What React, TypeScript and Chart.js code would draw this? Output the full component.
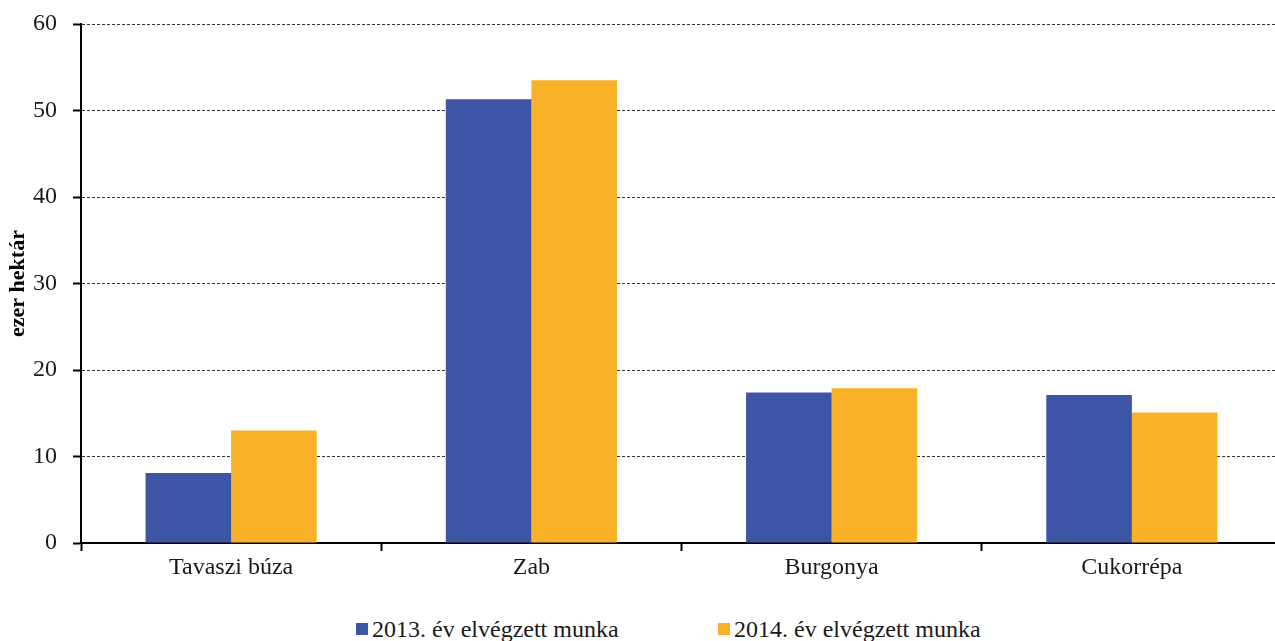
import React, { useEffect, useRef } from "react";
import { Chart, registerables } from "chart.js";

Chart.register(...registerables);

const categories = ["Tavaszi búza", "Zab", "Burgonya", "Cukorrépa"];
const seriesNames = ["2013. év elvégzett munka", "2014. év elvégzett munka"];
const values2013 = [8.1, 51.3, 17.4, 17.1];
const values2014 = [13.0, 53.5, 17.9, 15.1];
const yTicks = [0, 10, 20, 30, 40, 50, 60];
const yTitle = "ezer hektár";

const COLORS = ["#3C55A5", "#F9B128"];
const FONT = "'Liberation Serif', 'Times New Roman', serif";
const LEGEND_X = [356, 718];

export default function App() {
  const ref = useRef<HTMLCanvasElement>(null);

  useEffect(() => {
    const chart = new Chart(ref.current as HTMLCanvasElement, {
      type: "bar",
      data: {
        labels: categories,
        datasets: [
          { label: seriesNames[0], data: values2013, backgroundColor: COLORS[0] },
          { label: seriesNames[1], data: values2014, backgroundColor: COLORS[1] },
        ],
      },
      options: {
        animation: false,
        responsive: true,
        maintainAspectRatio: false,
        layout: { padding: { top: 24, right: 0, bottom: 0, left: 0 } },
        datasets: { bar: { categoryPercentage: 0.57, barPercentage: 1 } } as any,
        plugins: { legend: { display: false }, tooltip: { enabled: false } },
        scales: {
          x: {
            grid: {
              display: true,
              drawOnChartArea: false,
              drawTicks: true,
              tickLength: 8,
              tickWidth: 2,
              tickColor: "#000",
              color: "#000",
              offset: true,
            },
            border: { display: true, color: "#000", width: 2 },
            ticks: {
              font: { family: FONT, size: 24 },
              color: "#1a1a1a",
              padding: 2,
              maxRotation: 0,
              autoSkip: false,
            },
            afterFit: (s: any) => {
              s.height = 57;
            },
          } as any,
          y: {
            min: 0,
            max: 60,
            afterBuildTicks: (s: any) => {
              s.ticks = yTicks.map((v) => ({ value: v }));
            },
            grid: {
              color: (c: any) => (c.tick && c.tick.value === 0 ? "rgba(0,0,0,0)" : "#333"),
              lineWidth: 1,
              tickLength: 8,
              tickWidth: 2,
              tickColor: "#000",
            },
            border: { display: true, color: "#000", width: 2, dash: [3, 2] },
            ticks: { font: { family: FONT, size: 24 }, color: "#1a1a1a", padding: 16 },
            title: {
              display: true,
              text: yTitle,
              font: { family: FONT, size: 22, weight: "bold" },
              color: "#000",
              padding: { top: 5, bottom: 0 },
            },
            afterFit: (s: any) => {
              s.width = 81;
              s.paddingTop = 0;
              s.paddingBottom = 0;
            },
          } as any,
        },
      },
    });
    return () => chart.destroy();
  }, []);

  return (
    <div style={{ position: "absolute", left: 0, top: 0, width: 1275, height: 641, background: "#fff", overflow: "hidden" }}>
      <div style={{ position: "absolute", left: 0, top: 0, width: 1282, height: 600 }}>
        <canvas ref={ref} />
      </div>
      {seriesNames.map((name, i) => (
        <div
          key={name}
          style={{
            position: "absolute",
            left: LEGEND_X[i],
            top: 617,
            height: 24,
            display: "flex",
            alignItems: "center",
            fontFamily: FONT,
            fontSize: 24,
            lineHeight: "24px",
            color: "#1a1a1a",
            whiteSpace: "nowrap",
          }}
        >
          <span style={{ display: "inline-block", width: 12, height: 12, background: COLORS[i], marginRight: 4 }} />
          <span>{name}</span>
        </div>
      ))}
    </div>
  );
}
